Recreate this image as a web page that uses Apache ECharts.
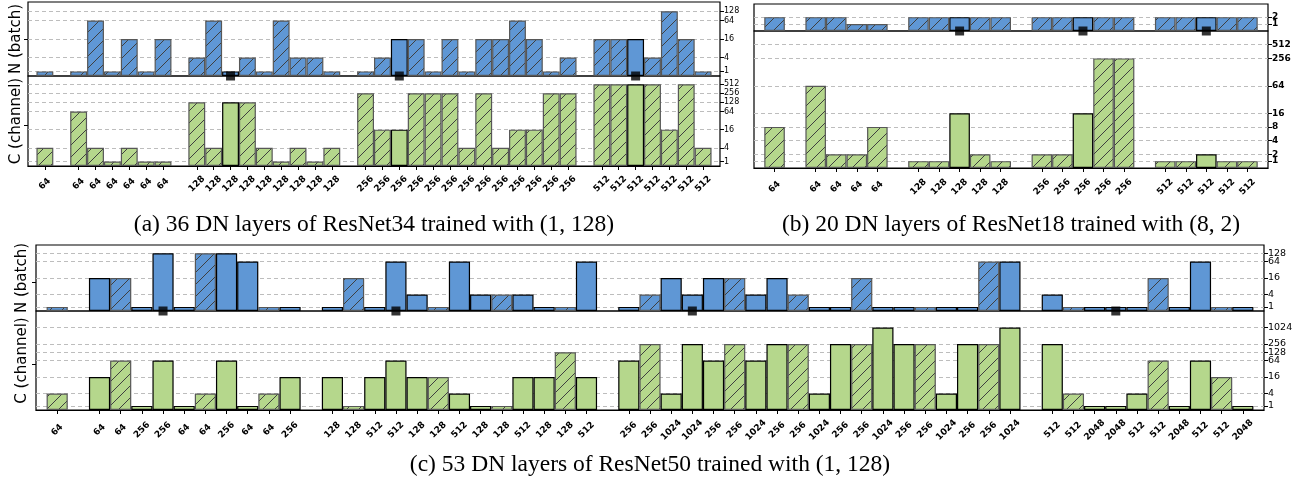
<!DOCTYPE html>
<html>
<head>
<meta charset="utf-8">
<script src="https://cdn.jsdelivr.net/npm/echarts@6/dist/echarts.min.js"></script>
<style>
    html, body { margin: 0; padding: 0; background: #fff; }
    #main { width: 1309px; height: 490px; }
</style>
</head>
<body>
<div id="main"></div>
<script>
// (a) ResNet34, '' = gap between stages
var labelsA = ['64', '', '64', '64', '64', '64', '64', '64', '',
    '128', '128', '128', '128', '128', '128', '128', '128', '128', '',
    '256', '256', '256', '256', '256', '256', '256', '256', '256', '256', '256', '256', '256', '',
    '512', '512', '512', '512', '512', '512', '512'];
var batchA = [1, null, 1, 64, 1, 16, 1, 16, null, 4, 64, 1, 4, 1, 64, 4, 4, 1, null,
    1, 4, 16, 16, 1, 16, 1, 16, 16, 64, 16, 1, 4, null, 16, 16, 16, 4, 128, 16, 1];
var channelA = [4, null, 64, 4, 1, 4, 1, 1, null, 128, 4, 128, 128, 4, 1, 4, 1, 4, null,
    256, 16, 16, 256, 256, 256, 4, 256, 4, 16, 16, 256, 256, null, 512, 512, 512, 512, 16, 512, 4];
var hatchA = [1, 0, 1, 1, 1, 1, 1, 1, 0, 1, 1, 0, 1, 1, 1, 1, 1, 1, 0,
    1, 1, 0, 1, 1, 1, 1, 1, 1, 1, 1, 1, 1, 0, 1, 1, 0, 1, 1, 1, 1];
var markA = [11, 21, 35];
var ticksNA = [1, 4, 16, 64, 128];
var ticksCA = [1, 4, 16, 64, 128, 256, 512];

// (b) ResNet18
var labelsB = ['64', '', '64', '64', '64', '64', '', '128', '128', '128', '128', '128', '',
    '256', '256', '256', '256', '256', '', '512', '512', '512', '512', '512'];
var batchB = [2, null, 2, 2, 1, 1, null, 2, 2, 2, 2, 2, null, 2, 2, 2, 2, 2, null, 2, 2, 2, 2, 2];
var channelB = [8, null, 64, 2, 2, 8, null, 1, 1, 16, 2, 1, null, 2, 2, 16, 256, 256, null, 1, 1, 2, 1, 1];
var hatchB = [1, 0, 1, 1, 1, 1, 0, 1, 1, 0, 1, 1, 0, 1, 1, 0, 1, 1, 0, 1, 1, 0, 1, 1];
var markB = [9, 15, 21];
var ticksNB = [1, 2];
var ticksCB = [1, 2, 4, 8, 16, 64, 256, 512];

// (c) ResNet50
var labelsC = ['64', '',
    '64', '64', '256', '256', '64', '64', '256', '64', '64', '256', '',
    '128', '128', '512', '512', '128', '128', '512', '128', '128', '512', '128', '128', '512', '',
    '256', '256', '1024', '1024', '256', '256', '1024', '256', '256', '1024', '256', '256', '1024',
    '256', '256', '1024', '256', '256', '1024', '',
    '512', '512', '2048', '2048', '512', '512', '2048', '512', '512', '2048'];
var batchC = [1, null, 16, 16, 1, 128, 1, 128, 128, 64, 1, 1, null,
    1, 16, 1, 64, 4, 1, 64, 4, 4, 4, 1, 1, 64, null,
    1, 4, 16, 4, 16, 16, 4, 16, 4, 1, 1, 16, 1, 1, 1, 1, 1, 64, 64, null,
    4, 1, 1, 1, 1, 16, 1, 64, 1, 1];
var channelC = [4, null, 16, 64, 1, 64, 1, 4, 64, 1, 4, 16, null,
    16, 1, 16, 64, 16, 16, 4, 1, 1, 16, 16, 128, 16, null,
    64, 256, 4, 256, 64, 256, 64, 256, 256, 4, 256, 256, 1024, 256, 256, 4, 256, 256, 1024, null,
    256, 4, 1, 1, 4, 64, 1, 64, 16, 1];
var hatchC = [1, 0, 0, 1, 0, 0, 0, 1, 0, 0, 1, 0, 0,
    0, 1, 0, 0, 0, 1, 0, 0, 1, 0, 0, 1, 0, 0,
    0, 1, 0, 0, 0, 1, 0, 0, 1, 0, 0, 1, 0, 0, 1, 0, 0, 1, 0, 0,
    0, 1, 0, 0, 0, 1, 0, 0, 1, 0];
var markC = [5, 16, 30, 50];
var ticksNC = [1, 4, 16, 64, 128];
var ticksCC = [1, 4, 16, 64, 128, 256, 1024];

var BLUE = '#5f97d5';
var GREEN = '#b5d78c';

// symlog base 2, linear below 2
function sym(v) { return v <= 2 ? v / 2 : Math.log2(v); }
function unsym(t) { return t <= 1 ? t * 2 : Math.pow(2, t); }

function hatch(base) {
    var s = 12;
    var c = document.createElement('canvas');
    c.width = s;
    c.height = s;
    var ctx = c.getContext('2d');
    ctx.fillStyle = base;
    ctx.fillRect(0, 0, s, s);
    ctx.strokeStyle = '#3f3f3f';
    ctx.lineWidth = 1;
    for (var k = -1; k <= 1; k++) {
        ctx.beginPath();
        ctx.moveTo(k * s, s);
        ctx.lineTo(k * s + s, 0);
        ctx.stroke();
    }
    return { image: c, repeat: 'repeat' };
}

var option = {
    animation: false,
    textStyle: { fontFamily: 'DejaVu Sans' },
    grid: [], xAxis: [], yAxis: [], series: [], graphic: []
};

// 右侧刻度轴（相邻标签分到两根轴上，避免被自动隐藏）
function rightAxis(gi, max, tv, p) {
    return {
        type: 'value', gridIndex: gi, position: 'right', min: 0, max: max,
        axisLine: { show: false },
        axisTick: { show: true, length: 4, customValues: tv, lineStyle: { color: '#000' } },
        axisLabel: {
            customValues: tv, margin: 4, fontSize: p.yFont, fontWeight: p.yBold ? 'bold' : 'normal',
            color: '#000', fontFamily: 'DejaVu Sans', hideOverlap: false,
            showMinLabel: true, showMaxLabel: true,
            formatter: function (t) { return String(Math.round(unsym(t))); }
        },
        splitLine: { show: true, lineStyle: { color: '#bdbdbd', type: [4, 3], width: 1 } }
    };
}

function addPanel(p) {
    var cats = [''].concat(p.labels, ['']);
    var rows = [
        { vals: p.batch, top: p.top, h: p.mid - p.top, max: p.maxN, ticks: p.ticksN, color: BLUE, name: p.names ? 'N (batch)' : null, leftTick: p.leftTicks[0], first: true },
        { vals: p.channel, top: p.mid, h: p.bottom - p.mid, max: p.maxC, ticks: p.ticksC, color: GREEN, name: p.names ? 'C (channel)' : null, leftTick: p.leftTicks[1], first: false }
    ];
    rows.forEach(function (r) {
        var gi = option.grid.length;
        var pat = hatch(r.color);
        option.grid.push({
            left: p.left, top: r.top, width: p.width, height: r.h,
            show: true, borderColor: '#000', borderWidth: 1.2, backgroundColor: 'transparent',
            outerBoundsMode: 'none'
        });
        if (r.first) {
            option.xAxis.push({ type: 'category', gridIndex: gi, data: cats, boundaryGap: false, show: false });
        } else {
            option.xAxis.push({
                type: 'category', gridIndex: gi, data: cats, boundaryGap: false,
                axisLine: { show: true, lineStyle: { color: '#000', width: 1.2 } },
                axisTick: { show: true, length: 4, interval: function (i, v) { return v !== ''; }, lineStyle: { color: '#000' } },
                axisLabel: {
                    interval: 0, rotate: 45, align: 'center', verticalAlign: 'middle', margin: p.labelGap,
                    fontSize: p.xFont, fontWeight: 'bold', color: '#000', fontFamily: 'DejaVu Sans'
                },
                splitLine: { show: false }
            });
        }
        var tv = r.ticks.map(sym);
        var even = tv.filter(function (t, i) { return i % 2 === 0; });
        var odd = tv.filter(function (t, i) { return i % 2 === 1; });
        var yi = option.yAxis.length;
        option.yAxis.push(rightAxis(gi, r.max, even, p));
        option.yAxis.push(rightAxis(gi, r.max, odd, p));
        if (r.name) {
            option.yAxis.push({
                type: 'value', gridIndex: gi, position: 'left', min: 0, max: r.max,
                axisLine: { show: false },
                axisTick: { show: true, length: 4, customValues: [r.leftTick], lineStyle: { color: '#000' } },
                axisLabel: { show: false },
                splitLine: { show: false },
                name: r.name, nameLocation: 'middle', nameRotate: 90, nameGap: p.nameGap,
                nameTextStyle: { fontSize: 15, color: '#000', fontFamily: 'DejaVu Sans' }
            });
        }
        // 柱子
        var data = ['-'];
        r.vals.forEach(function (v, i) {
            if (v == null) {
                data.push('-');
                return;
            }
            var h = p.hatch[i];
            data.push({
                value: sym(v),
                itemStyle: { color: h ? pat : r.color, borderColor: h ? '#575757' : '#000', borderWidth: 1.2 }
            });
        });
        data.push('-');
        option.series.push({
            type: 'bar', xAxisIndex: gi, yAxisIndex: yi, data: data,
            barCategoryGap: '0%', barGap: '0%', silent: true
        });
        // 标记
        if (r.first) {
            option.series.push({
                type: 'scatter', xAxisIndex: gi, yAxisIndex: yi, clip: false, silent: true, z: 5,
                symbol: 'rect', symbolSize: 9, itemStyle: { color: '#000' },
                data: p.marks.map(function (m) { return [m + 1, 0]; })
            });
        }
    });
    option.graphic.push({
        type: 'text', x: p.left + p.width / 2, y: p.capY,
        style: {
            text: p.caption, font: '23.5px "Liberation Serif"', fill: '#000',
            align: 'center', verticalAlign: 'middle', textAlign: 'center', textVerticalAlign: 'middle'
        }
    });
}

addPanel({
    labels: labelsA, batch: batchA, channel: channelA, hatch: hatchA, marks: markA,
    ticksN: ticksNA, ticksC: ticksCA, maxN: 8, maxC: 9.9,
    left: 28, width: 692, top: 2, mid: 76, bottom: 166,
    names: true, nameGap: 4, leftTicks: [4, 4.5],
    labelGap: 18, xFont: 9, yFont: 8, yBold: false,
    capY: 225, caption: '(a) 36 DN layers of ResNet34 trained with (1, 128)'
});
addPanel({
    labels: labelsB, batch: batchB, channel: channelB, hatch: hatchB, marks: markB,
    ticksN: ticksNB, ticksC: ticksCB, maxN: 1.95, maxC: 10,
    left: 754, width: 514, top: 4, mid: 31, bottom: 168,
    names: false, nameGap: 4, leftTicks: [0, 0],
    labelGap: 19, xFont: 9, yFont: 9, yBold: true,
    capY: 225, caption: '(b) 20 DN layers of ResNet18 trained with (8, 2)'
});
addPanel({
    labels: labelsC, batch: batchC, channel: channelC, hatch: hatchC, marks: markC,
    ticksN: ticksNC, ticksC: ticksCC, maxN: 8, maxC: 12,
    left: 36, width: 1228, top: 245, mid: 311, bottom: 410,
    names: true, nameGap: 6, leftTicks: [3.5, 5.6],
    labelGap: 20, xFont: 9, yFont: 9.5, yBold: false,
    capY: 465, caption: '(c) 53 DN layers of ResNet50 trained with (1, 128)'
});

var chart = echarts.init(document.getElementById('main'));
chart.setOption(option);
</script>
</body>
</html>
